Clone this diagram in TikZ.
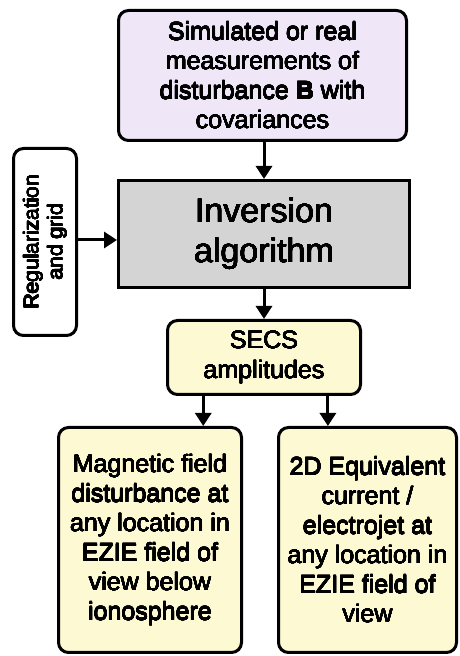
\documentclass[tikz,border=0pt]{standalone}
\usepackage{fontspec}
\setmainfont{Liberation Sans}
\usepackage[copies]{contour}
\contourlength{0.2pt}
\contournumber{16}
\usetikzlibrary{arrows.meta,calc}
\definecolor{lavender}{HTML}{EFE7F8}
\definecolor{boxgray}{HTML}{D4D4D4}
\definecolor{paleyellow}{HTML}{FDFAD3}
\newcommand{\heavy}[1]{\contour{black}{#1}}

\begin{document}
\begin{tikzpicture}[x=1pt, y=1pt, line width=3pt,
  box/.style={draw, rounded corners=10pt, align=center, inner sep=0pt,
    font=\fontsize{25}{29.5}\selectfont},
  arr/.style={-{Triangle[length=13pt, width=16pt]}}]
  \useasboundingbox (0,0) rectangle (459,656);
  \node[box, fill=lavender, minimum width=288, minimum height=130] (meas) at (262.5,580.5)
    {\heavy{Simulated or real}\\\heavy{measurements of}\\\heavy{disturbance \textbf{B} with}\\\heavy{covariances}};
  \node[box, fill=boxgray, rounded corners=0pt, minimum width=291, minimum height=107,
    font=\fontsize{34}{40}\selectfont] (inv) at (264,422) {\heavy{Inversion}\\\heavy{algorithm}};
  \node[box, minimum width=63, minimum height=187] (reg) at (45,414) {};
  \node[rotate=90, align=center, font=\fontsize{21}{24}\selectfont] (regtxt) at (reg.center)
    {\heavy{Regularization}\\\heavy{and grid}};
  \node[box, fill=paleyellow, minimum width=193, minimum height=74] (secs) at (264,298.5)
    {\heavy{SECS}\\\heavy{amplitudes}};
  \node[box, fill=paleyellow, minimum width=183, minimum height=225] (bfield) at (150,116)
    {\heavy{Magnetic field}\\\heavy{disturbance at}\\\heavy{any location in}\\\heavy{EZIE field of}\\\heavy{view below}\\\heavy{ionosphere}};
  \node[box, fill=paleyellow, minimum width=178, minimum height=225] (curr) at (367.5,116)
    {\heavy{2D Equivalent}\\\heavy{current /}\\\heavy{electrojet at}\\\heavy{any location in}\\\heavy{EZIE field of}\\\heavy{view}};
  % arrows
  \draw[arr] (meas.south -| inv.north) -- (inv.north);
  \draw[arr] (reg.east |- 0,416) -- (inv.west |- 0,416);
  \draw[arr] (inv.south) -- (secs.north);
  \coordinate (s1) at ($(secs.south west)!0.19!(secs.south east)$);
  \coordinate (s2) at ($(secs.south west)!0.826!(secs.south east)$);
  \draw[arr] (s1) -- (s1 |- bfield.north);
  \draw[arr] (s2) -- (s2 |- curr.north);
\end{tikzpicture}
\end{document}
